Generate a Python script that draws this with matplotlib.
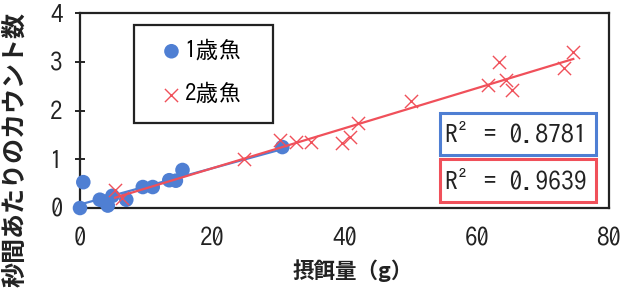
import matplotlib
matplotlib.use("Agg")
import matplotlib.pyplot as plt
import numpy as np
from matplotlib.patches import Rectangle

JP = ["IPAGothic", "Noto Sans CJK JP", "DejaVu Sans"]
JPB = ["Noto Sans CJK JP", "DejaVu Sans"]

# 1歳魚 (blue circles)
fish1_x = [0.0, 0.5, 3.0, 3.8, 4.2, 4.9, 7.0, 9.5, 11.0, 13.5, 14.5, 15.5, 30.6]
fish1_y = [0.0, 0.53, 0.17, 0.13, 0.05, 0.25, 0.17, 0.43, 0.43, 0.57, 0.56, 0.78, 1.25]
# 2歳魚 (red crosses)
fish2_x = [5.3, 6.3, 24.8, 30.3, 32.6, 34.9, 39.6, 40.9, 42.1, 50.1, 61.7, 63.3, 64.4, 65.3, 73.2, 74.6]
fish2_y = [0.37, 0.20, 1.00, 1.39, 1.35, 1.35, 1.33, 1.46, 1.74, 2.20, 2.52, 3.00, 2.63, 2.42, 2.87, 3.20]

series_labels = ["1歳魚", "2歳魚"]
r2_labels = ["R\u00b2 = 0.8781", "R\u00b2 = 0.9639"]
x_ticks = [0, 20, 40, 60, 80]
y_ticks = [0, 1, 2, 3, 4]
x_label = "摂餌量（g）"
y_label = "秒間あたりのカウント数"

BLUE = "#4f7fd3"
RED = "#f0505a"
W, H = 626, 294

fig = plt.figure(figsize=(W / 100, H / 100), dpi=100)
ax = fig.add_axes([80 / W, 1 - 208 / H, (609 - 80) / W, (208 - 13) / H])

p1 = np.polyfit(fish1_x, fish1_y, 1)
xx1 = np.array([min(fish1_x), max(fish1_x)])
ax.plot(xx1, np.polyval(p1, xx1), color=BLUE, lw=1.6, zorder=2)

ax.scatter(fish1_x, fish1_y, s=110, color=BLUE, zorder=3, label=series_labels[0],
           edgecolors="none", clip_on=False)
ax.scatter(fish2_x, fish2_y, s=90, marker="x", color=RED, linewidths=1.0, zorder=4,
           label=series_labels[1], clip_on=False)

p2 = np.polyfit(fish2_x, fish2_y, 1)
xx2 = np.array([min(fish2_x), max(fish2_x)])
ax.plot(xx2, np.polyval(p2, xx2), color=RED, lw=1.6, zorder=5)

ax.set_xlim(0, 80)
ax.set_ylim(0, 4)
ax.set_xticks(x_ticks)
ax.set_yticks(y_ticks)
ax.tick_params(axis="x", length=0, pad=14, labelsize=18)
ax.tick_params(axis="y", direction="inout", length=7, width=1.2, pad=9, labelsize=18)
for lab in ax.get_xticklabels() + ax.get_yticklabels():
    lab.set_family(JP)
    lab.set_color("#222222")
for s in ax.spines.values():
    s.set_linewidth(1.6)
    s.set_color("#222222")

fig.text(353 / W, 1 - 271 / H, x_label, fontsize=15.5, fontweight="bold", family=JPB,
         ha="center", va="center", color="#222222")
fig.text(15 / W, 1 - 12 / H, y_label, rotation=90, fontsize=18, fontweight="bold",
         family=JPB, ha="center", va="top", color="#222222")

# legend
fig.add_artist(Rectangle((134 / W, 1 - 123 / H), (273 - 134) / W, (123 - 25) / H,
                         transform=fig.transFigure, fill=False, ec="#222222", lw=1.6))
leg = ax.legend(loc="upper left", bbox_to_anchor=(160 / W, 1 - 38 / H),
                bbox_transform=fig.transFigure, frameon=False,
                prop={"family": JP, "size": 16.5}, handletextpad=0.05,
                labelspacing=0.95, borderpad=0, handlelength=1.0, borderaxespad=0)

# R² boxes
boxes = [(113, 155, BLUE), (159, 202, RED)]
for lab, (y0, y1, col) in zip(r2_labels, boxes):
    fig.add_artist(Rectangle((440 / W, 1 - y1 / H), (596 - 440) / W, (y1 - y0) / H,
                             transform=fig.transFigure, fc="white", ec=col, lw=2.2, zorder=2))
    fig.text(516 / W, 1 - (y0 + y1) / 2 / H, lab, ha="center", va="center", fontsize=18.5,
             family=JP, color="#222222", zorder=3)

fig.savefig("out.png", dpi=100)
